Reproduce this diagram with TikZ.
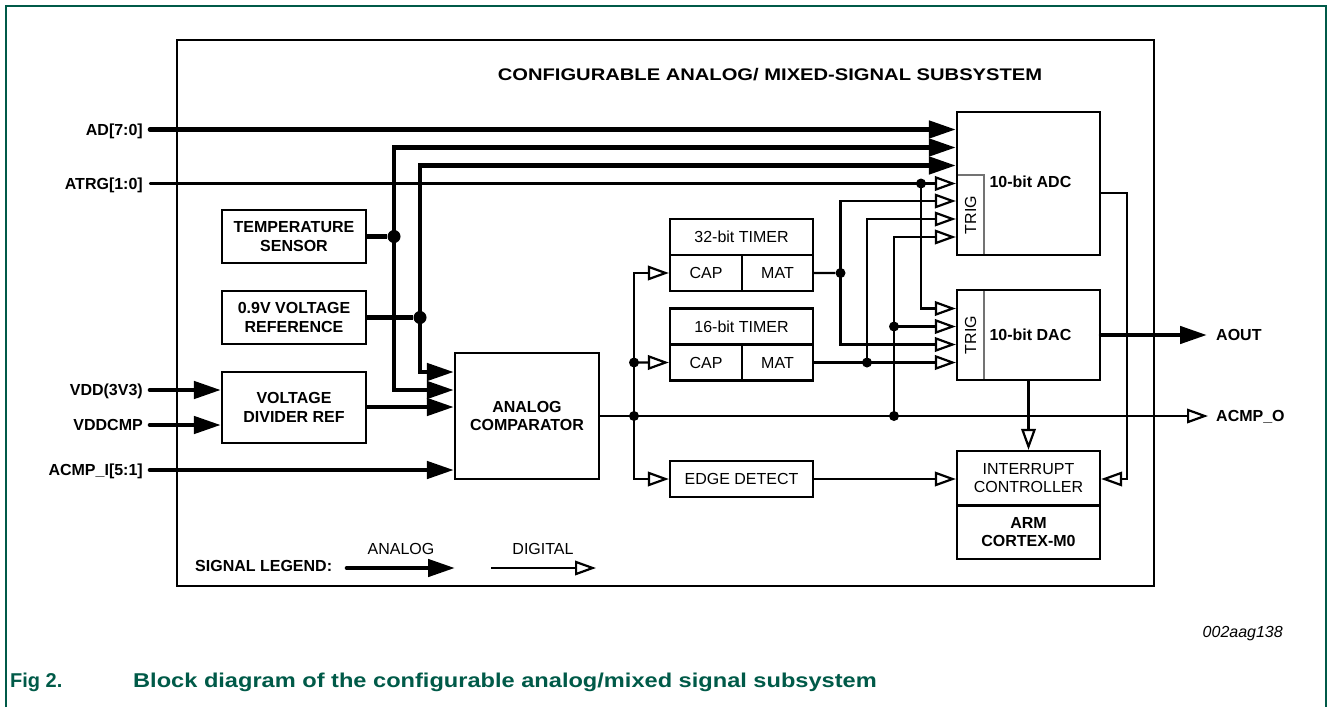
\documentclass[tikz,border=0pt]{standalone}
\usepackage{fontspec}
\setmainfont{Liberation Sans}
\newfontfamily\widefont[FakeStretch=1.2]{Liberation Sans}
\newfontfamily\capfont[FakeStretch=1.18]{Liberation Sans}
\usepackage{xcolor}
\usepackage{tikz}
\usetikzlibrary{calc, positioning, arrows.meta}
\definecolor{nxpgreen}{RGB}{0,90,72}
\newcommand{\normsize}{\fontsize{16}{18.5}\selectfont}
\tikzset{
    block/.style={rectangle, draw=black, line width=2.2pt, minimum width=144pt, inner sep=0pt, align=center, font=\normsize\bfseries},
    subblock/.style={rectangle, draw=black, line width=2.2pt, minimum width=143pt, inner sep=0pt, align=center, font=\normsize},
    trigbox/.style={rectangle, draw=black!55, line width=1.1pt, minimum width=27pt, inner sep=0pt, font=\normsize},
    pin/.style={font=\normsize\bfseries, inner sep=0pt, text height=11.5pt, text depth=0pt},
    legend/.style={font=\normsize, inner sep=0pt},
    analog/.style={line width=4.6pt, -{Triangle[length=27pt, width=17pt]}},
    bus/.style={line width=4.6pt},
    digital/.style={line width=2.2pt, -{Triangle[open, length=21pt, width=14.5pt]}},
    wire/.style={line width=2.2pt},
    dot/.style={circle, fill=black, inner sep=0pt, minimum size=10pt},
    bigdot/.style={circle, fill=black, inner sep=0pt, minimum size=13pt},
    frame/.style={draw=nxpgreen, line width=1.6pt}
}
\begin{document}
\begin{tikzpicture}[x=1pt, y=-1pt]
        \useasboundingbox (0,0) rectangle (1328,707);

        % Frame
        \draw[frame] (6,707) -- (6,6) -- (1326,6) -- (1326,707);
        \node[draw, line width=2.2pt, minimum width=977pt, minimum height=546pt] (Sub) at (665.5,313) {};
        \node[font=\widefont\bfseries\fontsize{16.8}{18}\selectfont] (Title) at (770,75) {CONFIGURABLE ANALOG/ MIXED-SIGNAL SUBSYSTEM};

        % Pins
        \node[pin, anchor=east] (AD) at (143,129.5) {AD[7:0]};
        \node[pin, anchor=east] (ATRG) at (143,183.5) {ATRG[1:0]};
        \node[pin, anchor=east] (VDD) at (143,390) {VDD(3V3)};
        \node[pin, anchor=east] (VDDCMP) at (143,425) {VDDCMP};
        \node[pin, anchor=east] (ACMPI) at (143,470) {ACMP\_I[5:1]};
        \node[pin, anchor=west] (AOUT) at (1216,335) {AOUT};
        \node[pin, anchor=west] (ACMPO) at (1216,416) {ACMP\_O};

        % Analog blocks
        \node[block, minimum height=53pt] (TempSens) at (294,236.5) {TEMPERATURE\\SENSOR};
        \node[block, minimum height=53pt] (VRef) at (294,317.5) {0.9V VOLTAGE\\REFERENCE};
        \node[block, minimum height=71pt] (VDiv) at (294,407.5) {VOLTAGE\\DIVIDER REF};
        \node[block, minimum height=126pt] (Comp) at (527,416) {ANALOG\\COMPARATOR};

        % Timers
        \node[subblock, minimum height=36pt] (T32) at (741.5,237) {32-bit TIMER};
        \node[subblock, minimum width=72pt, minimum height=36pt, below=-2.2pt of T32.south west, anchor=north west] (T32Cap) {CAP};
        \node[subblock, minimum width=71pt, minimum height=36pt, right=-2.2pt of T32Cap] (T32Mat) {MAT};
        \node[subblock, minimum height=36pt] (T16) at (741.5,326.5) {16-bit TIMER};
        \node[subblock, minimum width=72pt, minimum height=36pt, below=-2.2pt of T16.south west, anchor=north west] (T16Cap) {CAP};
        \node[subblock, minimum width=71pt, minimum height=36pt, right=-2.2pt of T16Cap] (T16Mat) {MAT};
        \node[subblock, minimum height=36pt] (Edge) at (741.5,479) {EDGE DETECT};

        % Converters
        \node[trigbox, minimum height=80pt] (AdcTrig) at (970.5,215) {\rotatebox{90}{TRIG}};
        \node[trigbox, minimum height=90pt] (DacTrig) at (970.5,335) {\rotatebox{90}{TRIG}};
        \node[subblock, minimum height=143pt] (ADC) at (1028.5,183.5) {};
        \node[font=\normsize\bfseries, anchor=west] (AdcName) at (986,182) {10-bit ADC};
        \node[subblock, minimum height=90pt] (DAC) at (1028.5,335) {};
        \node[font=\normsize\bfseries, anchor=west] (DacName) at (986,335) {10-bit DAC};

        % CPU
        \node[subblock, minimum height=54.5pt] (IntC) at (1028.5,478.25) {INTERRUPT\\CONTROLLER};
        \node[block, minimum width=143pt, minimum height=53.5pt, below=-2.2pt of IntC] (ARM) {ARM\\CORTEX-M0};

        % Junctions
        \node[bigdot] (JTemp) at (394,236.5) {};
        \node[bigdot] (JRef) at (420,317.5) {};
        \node[dot] (JAtrg) at (921,183.5) {};
        \node[dot] (J32) at (840.5,273) {};
        \node[dot] (J16) at (867,362.5) {};
        \node[dot] (JCmpTrig) at (894,326.5) {};
        \node[dot] (JCmpOut) at (894,416) {};
        \node[dot] (JCap16) at (634,362.5) {};
        \node[dot] (JCmp) at (634,416) {};
        \coordinate (AdcBend) at (1127,479);

        % Analog connections
        \draw[analog, line cap=round] ([xshift=7pt]AD.east) -- (AD -| ADC.west);
        \draw[bus] (TempSens) -- (JTemp);
        \draw[analog] (JTemp.center) |- (ADC.west |- 0,147.5);
        \draw[analog] (JTemp.center) |- (Comp.west |- 0,390);
        \draw[bus] (VRef) -- (JRef);
        \draw[analog] (JRef.center) |- (ADC.west |- 0,165.5);
        \draw[analog] (JRef.center) |- (Comp.west |- 0,372);
        \draw[analog] (VDiv.east |- 0,407) -- (Comp.west |- 0,407);
        \draw[analog, line cap=round] ([xshift=7pt]VDD.east) -- (VDD -| VDiv.west);
        \draw[analog, line cap=round] ([xshift=7pt]VDDCMP.east) -- (VDDCMP -| VDiv.west);
        \draw[analog, line cap=round] ([xshift=7pt]ACMPI.east) -- (ACMPI -| Comp.west);
        \draw[analog, line cap=round] (DAC.east) -- ([xshift=-9pt]AOUT.west);

        % Digital connections
        \draw[digital, line cap=round] ([xshift=7pt]ATRG.east) -- (ATRG -| ADC.west);
        \draw[digital] (JAtrg.center) |- (DAC.west |- 0,308.5);
        \draw[wire] (T32Mat) -- (J32);
        \draw[digital] (J32.center) |- (ADC.west |- 0,201);
        \draw[digital] (J32.center) |- (DAC.west |- 0,344.5);
        \draw[digital] (T16Mat) -- (T16Mat -| DAC.west);
        \draw[digital] (J16.center) |- (ADC.west |- 0,219);
        \draw[digital] (JCmpOut.center) |- (ADC.west |- 0,237);
        \draw[digital] (JCmpTrig.center) -- (JCmpTrig -| DAC.west);
        \draw[digital] (Comp.east) -- ([xshift=-8pt]ACMPO.west);
        \draw[digital] (JCmp.center) |- (T32Cap.west);
        \draw[digital] (JCmp.center) |- (Edge.west);
        \draw[digital] (JCap16.center) -- (T16Cap.west);
        \draw[digital] (Edge) -- (Edge -| IntC.west);
        \draw[digital] (DAC) -- (IntC);
        \draw[digital] (ADC.east |- 0,193) -| (AdcBend) -- (AdcBend -| IntC.east);

        % Legend
        \node[font=\normsize\bfseries, anchor=west, inner sep=0pt] (LegTitle) at (195,566) {SIGNAL LEGEND:};
        \coordinate (LegA1) at (347,568);
        \coordinate (LegA2) at (455,568);
        \coordinate (LegD1) at (491,568);
        \coordinate (LegD2) at (596,568);
        \draw[analog, line cap=round] (LegA1) -- (LegA2);
        \draw[digital] (LegD1) -- (LegD2);
        \node[legend] (LegAnalog) at (401,549) {ANALOG};
        \node[legend] (LegDigital) at (543,549) {DIGITAL};

        % Caption
        \node[font=\normsize\itshape, anchor=east, inner sep=0pt] (FigId) at (1283,634) {002aag138};
        \node[font=\bfseries\fontsize{20}{22}\selectfont, text=nxpgreen, anchor=west, inner sep=0pt] (FigNum) at (10,682) {Fig 2.};
        \node[font=\capfont\bfseries\fontsize{20}{22}\selectfont, text=nxpgreen, anchor=west, inner sep=0pt] (FigCap) at (133,682) {Block diagram of the configurable analog/mixed signal subsystem};
    \end{tikzpicture}
\end{document}
